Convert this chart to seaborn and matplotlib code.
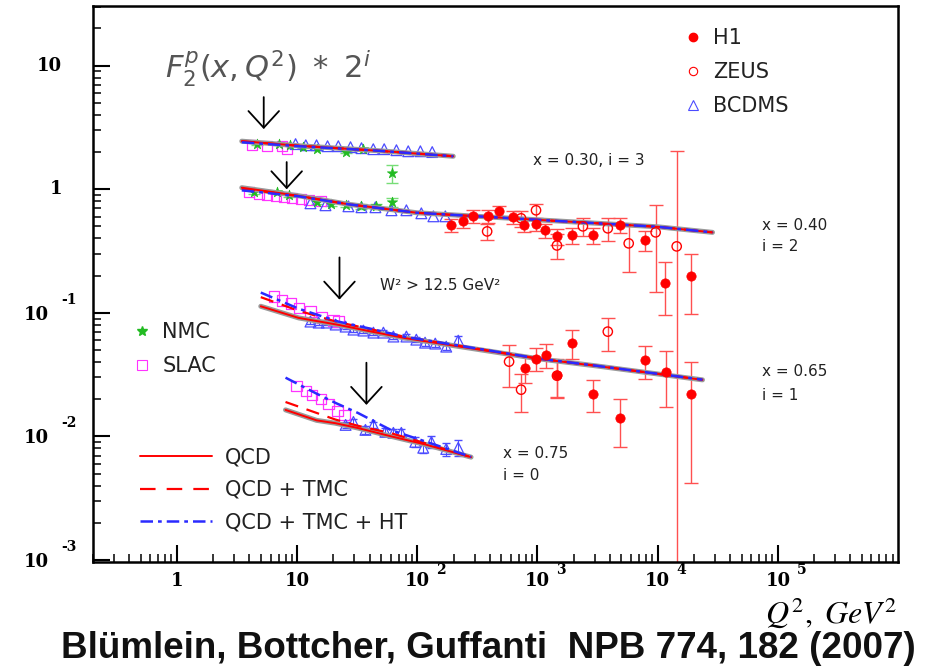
import matplotlib
matplotlib.use("Agg")
import matplotlib.pyplot as plt
import seaborn as sns
from matplotlib.lines import Line2D
from matplotlib import transforms

# ---------------- data (plotted values = F2 * 2^i) ----------------
# x = 0.30, i = 3
bcdms3_q = [9.7, 11.8, 14.5, 17.9, 22, 27.8, 34.3, 43, 53, 67, 84, 106, 133]
bcdms3_f = [2.32, 2.27, 2.27, 2.23, 2.23, 2.19, 2.15, 2.11, 2.11, 2.07, 2.03, 2.03, 2.00]
nmc3_q = [4.61, 7.02, 8.67, 11.1, 14.5, 25.7, 35.6, 62.1]
nmc3_f = [2.32, 2.32, 2.27, 2.19, 2.11, 2.00, 2.11, 1.35]
nmc3_e = [0.05, 0.05, 0.05, 0.05, 0.05, 0.05, 0.05, 0.22]
slac3_q = [4.19, 5.58, 7.43, 8.18]
slac3_f = [2.27, 2.23, 2.23, 2.11]
curve3_q = [3.46, 10.3, 47.5, 199]
qcd3_f = [2.45, 2.25, 2.05, 1.85]
tmc3_f = [2.44, 2.25, 2.05, 1.85]
ht3_f = [2.40, 2.23, 2.05, 1.85]

# x = 0.40, i = 2
bcdms2_q = [12.9, 17.2, 26.7, 34.3, 44.8, 60.9, 81.1, 108, 136, 171]
bcdms2_f = [0.770, 0.742, 0.728, 0.715, 0.715, 0.676, 0.676, 0.639, 0.604, 0.604]
nmc2_q = [4.35, 6.76, 8.5, 14.5, 19.3, 25.7, 34.3, 45.7, 62.1]
nmc2_f = [0.946, 0.946, 0.894, 0.785, 0.756, 0.742, 0.728, 0.728, 0.785]
nmc2_e = [0.03, 0.03, 0.03, 0.03, 0.03, 0.03, 0.03, 0.03, 0.06]
slac2_q = [3.96, 4.79, 5.58, 6.63, 7.73, 9.0, 10.7, 12.5, 15.7]
slac2_f = [0.946, 0.911, 0.894, 0.877, 0.861, 0.845, 0.830, 0.815, 0.800]
h12_q = [191, 241, 292, 388, 479, 626, 772, 972, 1154, 1452, 1933, 2888, 4842, 7802, 11430, 19100]
h12_f = [0.511, 0.55, 0.604, 0.604, 0.663, 0.593, 0.511, 0.520, 0.465, 0.416, 0.424, 0.424, 0.511, 0.386, 0.176, 0.197]
h12_e = [0.06, 0.06, 0.07, 0.07, 0.07, 0.07, 0.06, 0.06, 0.06, 0.06, 0.06, 0.06, 0.07, 0.07, 0.08, 0.10]
zeus2_q = [381, 730, 972, 1452, 2387, 3846, 5741, 9620, 14400]
zeus2_f = [0.456, 0.582, 0.676, 0.351, 0.501, 0.483, 0.365, 0.448, 0.345]
zeus2_e = [0.07, 0.09, 0.09, 0.08, 0.08, 0.10, 0.15, 0.30, 1.70]
curve2_q = [3.46, 10.3, 26.7, 100, 1000, 10000, 28600]
qcd2_f = [1.03, 0.885, 0.756, 0.645, 0.566, 0.497, 0.448]
tmc2_f = [1.01, 0.880, 0.756, 0.645, 0.566, 0.497, 0.448]
ht2_f = [0.98, 0.877, 0.756, 0.645, 0.566, 0.497, 0.448]

# x = 0.65, i = 1
slac1_q = [6.38, 7.43, 8.83, 10.3, 12.9, 16.0, 20.1, 22.1]
slac1_f = [0.1356, 0.126, 0.119, 0.110, 0.1025, 0.0916, 0.0867, 0.0851]
bcdms1_q = [12.9, 15.1, 17.6, 20.9, 25.3, 29.4, 35.6, 43.1, 52.2, 63.2, 81.1, 98.1, 116, 141, 174, 219]
bcdms1_f = [0.0850, 0.0834, 0.0834, 0.0804, 0.0774, 0.0732, 0.0719, 0.0692, 0.0692, 0.0643, 0.0643,
            0.0607, 0.0574, 0.0564, 0.0533, 0.0596]
bcdms1_e = [0.004, 0.004, 0.004, 0.003, 0.003, 0.003, 0.003, 0.003, 0.003, 0.003, 0.003,
            0.003, 0.003, 0.003, 0.003, 0.005]
h11_q = [787, 972, 1177, 1452, 1933, 2888, 4842, 7802, 11650, 19100]
h11_f = [0.036, 0.0426, 0.0459, 0.0316, 0.0574, 0.0222, 0.0142, 0.0418, 0.0334, 0.0222]
h11_e = [0.009, 0.009, 0.010, 0.011, 0.015, 0.0065, 0.006, 0.0125, 0.016, 0.018]
zeus1_q = [580, 730, 1452, 3846]
zeus1_f = [0.0403, 0.0239, 0.031, 0.0705]
zeus1_e = [0.015, 0.008, 0.010, 0.021]
curve1_q = [4.98, 10.3, 22, 41.6, 79, 1000, 3170, 23600]
qcd1_f = [0.113, 0.091, 0.080, 0.0705, 0.0625, 0.0426, 0.0371, 0.0287]
tmc1_f = [0.134, 0.104, 0.084, 0.0735, 0.0637, 0.0428, 0.0372, 0.0288]
ht1_f = [0.146, 0.108, 0.085, 0.0741, 0.064, 0.0428, 0.0372, 0.0288]

# x = 0.75, i = 0
slac0_q = [9.9, 11.8, 13.2, 15.7, 18.2, 21.7, 24.8]
slac0_f = [0.0257, 0.0234, 0.0217, 0.0202, 0.0184, 0.0161, 0.0150]
bcdms0_q = [25.3, 29.4, 37, 43.1, 54.2, 63.2, 73.6, 96.2, 112, 131, 174, 219]
bcdms0_f = [0.0124, 0.0131, 0.0113, 0.0124, 0.0109, 0.0107, 0.0107, 0.00904, 0.0081, 0.00904, 0.00792, 0.0081]
bcdms0_e = [0.0008, 0.0008, 0.0008, 0.0008, 0.0008, 0.0008, 0.0008, 0.0008, 0.0007, 0.0010, 0.0010, 0.0012]
curve0_q = [8.0, 14.5, 20.8, 32, 61, 117, 280]
qcd0_f = [0.0164, 0.0135, 0.0128, 0.0117, 0.0100, 0.0086, 0.0068]
tmc0_f = [0.0190, 0.0155, 0.0137, 0.0122, 0.0106, 0.0088, 0.0068]
ht0_f = [0.0299, 0.0222, 0.0187, 0.0155, 0.0112, 0.0091, 0.00684]

# arrows: (Q2, tip value, tail value)
arrow_q = [5.27, 8.18, 22.5, 37.7]
arrow_tip = [3.07, 1.0, 0.128, 0.018]
arrow_tail = [5.57, 1.66, 0.281, 0.0395]

xticks = [1, 10, 100, 1000, 10000, 100000]
xtick_base = ["1", "10", "10", "10", "10", "10"]
xtick_exp = ["", "", "2", "3", "4", "5"]
yticks = [10, 1, 0.1, 0.01, 0.001]
ytick_base = ["10", "1", "10", "10", "10"]
ytick_exp = ["", "", "-1", "-2", "-3"]

# ---------------- style ----------------
sns.set_style("white")
plt.rcParams['font.family'] = ['DejaVu Sans']
plt.rcParams['mathtext.fontset'] = 'dejavusans'

RED = "#ff0000"
ERR_RED = "#ff5050"
BLUE = "#2a2aff"
TRI = "#4b4bff"
GREEN = "#22bb22"
MAG = "#ff33ff"
TXT = "#222222"

fig = plt.figure(figsize=(9.38, 6.69), dpi=100)
ax = fig.add_axes([93 / 938, 1 - 562 / 669, 805 / 938, 556 / 669])
ax.set_xscale('log')
ax.set_yscale('log')
ax.set_xlim(0.2, 1e6)
ax.set_ylim(9.64e-4, 30.4)


def open_scatter(q, f, marker, s, color, lw=0.9, z=3):
    sns.scatterplot(x=q, y=f, marker=marker, s=s, color=color, ax=ax, zorder=z, legend=False)
    coll = ax.collections[-1]
    coll.set_facecolor('none')
    coll.set_edgecolor(color)
    coll.set_linewidth(lw)


def filled_scatter(q, f, marker, s, color, z=3):
    sns.scatterplot(x=q, y=f, marker=marker, s=s, color=color, edgecolor=color,
                    linewidth=0.5, ax=ax, zorder=z, legend=False)


def curves(q, qcd, tmc, ht):
    sns.lineplot(x=q, y=qcd, ax=ax, color="#9a9a9a", lw=3.6, sort=False, estimator=None, legend=False, zorder=4)
    sns.lineplot(x=q, y=qcd, ax=ax, color=RED, lw=1.4, sort=False, estimator=None, legend=False, zorder=4)
    sns.lineplot(x=q, y=tmc, ax=ax, color=RED, lw=1.6, linestyle=(0, (6, 4)), sort=False,
                 estimator=None, legend=False, zorder=4)
    sns.lineplot(x=q, y=ht, ax=ax, color=BLUE, lw=1.8, linestyle=(0, (5, 2, 1.5, 2)), sort=False,
                 estimator=None, legend=False, zorder=4)


# error bars
ax.errorbar(nmc3_q, nmc3_f, yerr=nmc3_e, fmt='none', ecolor="#77dd77", elinewidth=1, capsize=4, zorder=2)
ax.errorbar(nmc2_q, nmc2_f, yerr=nmc2_e, fmt='none', ecolor="#77dd77", elinewidth=1, capsize=4, zorder=2)
ax.errorbar(h12_q, h12_f, yerr=h12_e, fmt='none', ecolor=ERR_RED, elinewidth=1, capsize=5, zorder=2)
ax.errorbar(zeus2_q, zeus2_f, yerr=zeus2_e, fmt='none', ecolor=ERR_RED, elinewidth=1, capsize=5, zorder=2)
ax.errorbar(h11_q, h11_f, yerr=h11_e, fmt='none', ecolor=ERR_RED, elinewidth=1, capsize=5, zorder=2)
ax.errorbar(zeus1_q, zeus1_f, yerr=zeus1_e, fmt='none', ecolor=ERR_RED, elinewidth=1, capsize=5, zorder=2)
ax.errorbar(bcdms1_q, bcdms1_f, yerr=bcdms1_e, fmt='none', ecolor=TRI, elinewidth=0.8, capsize=3, zorder=2)
ax.errorbar(bcdms0_q, bcdms0_f, yerr=bcdms0_e, fmt='none', ecolor=TRI, elinewidth=0.8, capsize=3, zorder=2)

# data markers
for q, f in [(slac3_q, slac3_f), (slac2_q, slac2_f), (slac1_q, slac1_f), (slac0_q, slac0_f)]:
    open_scatter(q, f, 's', 55, MAG)
for q, f in [(bcdms3_q, bcdms3_f), (bcdms2_q, bcdms2_f), (bcdms1_q, bcdms1_f), (bcdms0_q, bcdms0_f)]:
    open_scatter(q, f, '^', 60, TRI)
for q, f in [(nmc3_q, nmc3_f), (nmc2_q, nmc2_f)]:
    filled_scatter(q, f, '*', 60, GREEN)
for q, f in [(zeus2_q, zeus2_f), (zeus1_q, zeus1_f)]:
    open_scatter(q, f, 'o', 45, RED, lw=1.0, z=5)
for q, f in [(h12_q, h12_f), (h11_q, h11_f)]:
    filled_scatter(q, f, 'o', 45, RED, z=5)

curves(curve3_q, qcd3_f, tmc3_f, ht3_f)
curves(curve2_q, qcd2_f, tmc2_f, ht2_f)
curves(curve1_q, qcd1_f, tmc1_f, ht1_f)
curves(curve0_q, qcd0_f, tmc0_f, ht0_f)

# arrows
for q, tip, tail in zip(arrow_q, arrow_tip, arrow_tail):
    ax.annotate('', xy=(q, tip), xytext=(q, tail),
                arrowprops=dict(arrowstyle='->,head_length=0.6,head_width=0.55', lw=1.3,
                                color='black', mutation_scale=20, shrinkA=0, shrinkB=0), zorder=6)

# axes styling
for side in ['left', 'bottom', 'top', 'right']:
    ax.spines[side].set_visible(True)
    ax.spines[side].set_color('black')
    ax.spines[side].set_linewidth(1.8)
ax.tick_params(axis='both', which='both', direction='in', left=True, bottom=True, top=False,
               right=False, labelleft=False, labelbottom=False, color='black')
ax.tick_params(which='major', length=12, width=1.5)
ax.tick_params(which='minor', length=6, width=1.1)
ax.set_xticks(xticks)
ax.set_yticks(yticks)
ax.xaxis.set_minor_locator(matplotlib.ticker.LogLocator(base=10, subs=range(2, 10), numticks=20))
ax.yaxis.set_minor_locator(matplotlib.ticker.LogLocator(base=10, subs=range(2, 10), numticks=20))
ax.grid(False)

tick_font = dict(family='DejaVu Serif', weight='bold', color='black')
xb = transforms.blended_transform_factory(ax.transData, ax.transAxes)
for v, b, e in zip(xticks, xtick_base, xtick_exp):
    ax.annotate(b, xy=(v, 0), xycoords=xb, xytext=(0, -19), textcoords='offset pixels',
                ha='center', va='center', fontsize=13, **tick_font)
    if e:
        ax.annotate(e, xy=(v, 0), xycoords=xb, xytext=(19, -8), textcoords='offset pixels',
                    ha='left', va='center', fontsize=10, **tick_font)
yb = transforms.blended_transform_factory(ax.transAxes, ax.transData)
for v, b, e in zip(yticks, ytick_base, ytick_exp):
    if e:
        ax.annotate(b, xy=(0, v), xycoords=yb, xytext=(-44, -2), textcoords='offset pixels',
                    ha='right', va='center', fontsize=13, **tick_font)
        ax.annotate(e, xy=(0, v), xycoords=yb, xytext=(-32, 13), textcoords='offset pixels',
                    ha='left', va='center', fontsize=10, **tick_font)
    else:
        ax.annotate(b, xy=(0, v), xycoords=yb, xytext=(-31, 0), textcoords='offset pixels',
                    ha='right', va='center', fontsize=13, **tick_font)

# legends
leg_font = dict(size=15)
h_exp = [Line2D([], [], marker='o', ls='none', color=RED, markersize=6),
         Line2D([], [], marker='o', ls='none', mfc='none', mec=RED, markersize=6, mew=0.8),
         Line2D([], [], marker='^', ls='none', mfc='none', mec=TRI, markersize=7, mew=0.8)]
leg1 = ax.legend(h_exp, ['H1', 'ZEUS', 'BCDMS'], loc='upper left', bbox_to_anchor=(0.719, 0.979),
                 frameon=False, borderpad=0, handlelength=1.0, handletextpad=0.5, labelspacing=0.67,
                 prop=leg_font, labelcolor=TXT)
ax.add_artist(leg1)
h_fix = [Line2D([], [], marker='*', ls='none', color=GREEN, markersize=7),
         Line2D([], [], marker='s', ls='none', mfc='none', mec=MAG, markersize=7, mew=0.8)]
leg2 = ax.legend(h_fix, ['NMC', 'SLAC'], loc='upper left', bbox_to_anchor=(0.0356, 0.450),
                 frameon=False, borderpad=0, handlelength=1.0, handletextpad=0.46, labelspacing=0.67,
                 prop=leg_font, labelcolor=TXT)
ax.add_artist(leg2)
h_fit = [Line2D([], [], color=RED, lw=1.4),
         Line2D([], [], color=RED, lw=1.6, ls=(0, (7, 5))),
         Line2D([], [], color=BLUE, lw=1.8, ls=(0, (5, 2, 1.5, 2)))]
ax.legend(h_fit, ['QCD', 'QCD + TMC', 'QCD + TMC + HT'], loc='upper left', bbox_to_anchor=(0.0456, 0.2254),
          frameon=False, borderpad=0, handlelength=3.46, handletextpad=0.63, labelspacing=0.61,
          prop=leg_font, labelcolor=TXT)

# annotations
ax.text(0.089, 0.888, r"$F_2^p(x,Q^2)\ *\ 2^i$", transform=ax.transAxes, fontsize=22,
        color="#555555", ha='left', va='center')
small = dict(transform=ax.transAxes, fontsize=11, color=TXT, ha='left', va='center')
ax.text(0.547, 0.723, "x = 0.30, i = 3", **small)
ax.text(0.831, 0.606, "x = 0.40", **small)
ax.text(0.831, 0.567, "i = 2", **small)
ax.text(0.3565, 0.498, "W² > 12.5 GeV²", **small)
ax.text(0.831, 0.342, "x = 0.65", **small)
ax.text(0.831, 0.299, "i = 1", **small)
ax.text(0.509, 0.196, "x = 0.75", **small)
ax.text(0.509, 0.155, "i = 0", **small)

fig.text(897 / 938, 1 - 613 / 669, r"$Q^2,\ GeV^2$", fontsize=23, ha='right', va='center',
         math_fontfamily='stix', color='black')
fig.text((58 + 918) / 2 / 938, 1 - 648 / 669, "Blümlein, Bottcher, Guffanti  NPB 774, 182 (2007)",
         fontsize=26.5, fontweight='bold', family=['Liberation Sans', 'DejaVu Sans'],
         ha='center', va='center', color='#111111')

fig.savefig("out.png", dpi=100)
